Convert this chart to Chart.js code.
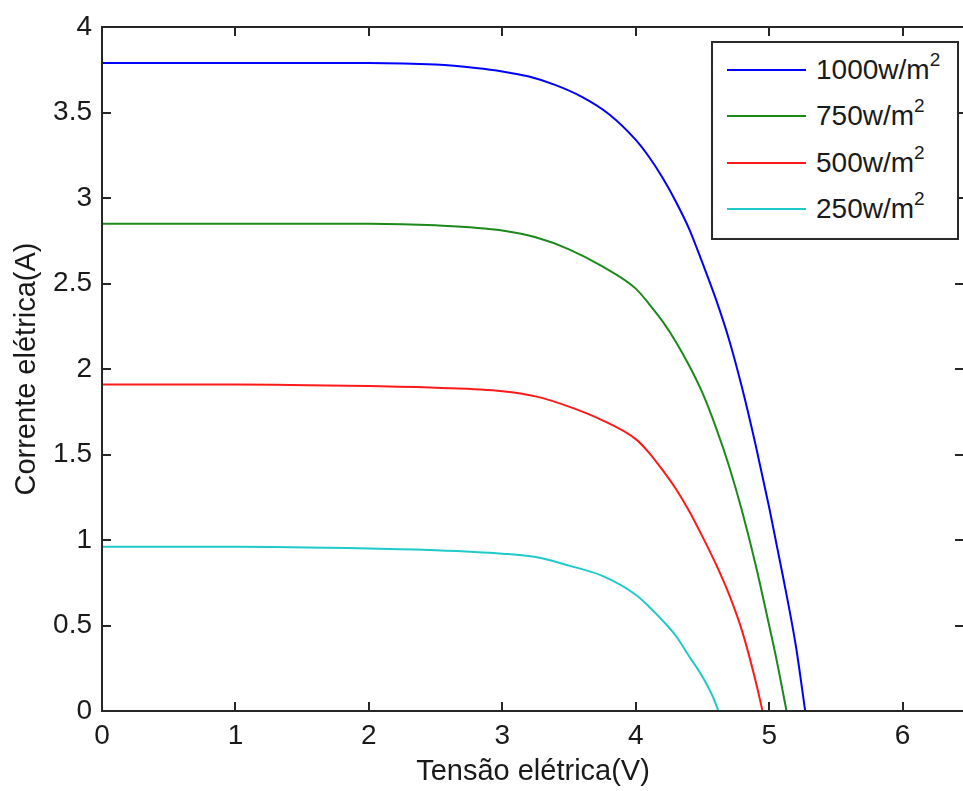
<!DOCTYPE html>
<html>
<head>
<meta charset="utf-8">
<script src="https://cdn.jsdelivr.net/npm/chart.js@4.4.1/dist/chart.umd.min.js"></script>
<style>
  html, body { margin: 0; padding: 0; background: #fff; overflow: hidden; }
  #wrap { position: relative; width: 963px; height: 791px; overflow: hidden; }
  #chart { position: absolute; left: 0; top: 0; }
  #legend {
    position: absolute; left: 711px; top: 41px; width: 244px; height: 195px;
    border: 2px solid #2a2a2a; background: #fff;
    font-family: 'Liberation Sans', Arial, sans-serif; font-size: 28px; color: #1a1a1a;
  }
  .row { position: absolute; left: 0; height: 40px; width: 100%; }
  .swatch { position: absolute; left: 14px; top: 19px; width: 79px; height: 2px; }
  .label { position: absolute; left: 103px; top: 5px; line-height: 30px; white-space: nowrap; }
  .label sup { font-size: 19px; position: relative; top: -3px; line-height: 0; }
</style>
</head>
<body>
<div id="wrap">
  <canvas id="chart" width="970" height="791"></canvas>
  <div id="legend"></div>
</div>
<script>
// irradiance levels (w/m2)
const irradiance = ['1000', '750', '500', '250'];
const colors = ['#0000ff', '#1b8a1b', '#ff1a1a', '#1fcaca'];

// voltage (V) and current (A)
const v1000 = [0, 1.0, 2.0, 2.5, 2.8, 3.0, 3.2, 3.4, 3.6, 3.8, 4.0, 4.1, 4.2, 4.3, 4.4, 4.5, 4.6, 4.7, 4.8, 4.9, 5.0, 5.1, 5.2, 5.27];
const i1000 = [3.79, 3.79, 3.79, 3.78, 3.76, 3.74, 3.71, 3.66, 3.59, 3.49, 3.34, 3.24, 3.12, 2.98, 2.82, 2.62, 2.41, 2.17, 1.88, 1.55, 1.19, 0.80, 0.38, 0];

const v750 = [0, 1.0, 2.0, 2.5, 3.0, 3.25, 3.5, 3.75, 4.0, 4.1, 4.2, 4.3, 4.4, 4.5, 4.6, 4.7, 4.8, 4.9, 5.0, 5.05, 5.13];
const i750 = [2.85, 2.85, 2.85, 2.84, 2.81, 2.77, 2.70, 2.60, 2.47, 2.38, 2.28, 2.16, 2.02, 1.86, 1.66, 1.43, 1.16, 0.85, 0.50, 0.32, 0];

const v500 = [0, 1.0, 2.0, 2.5, 3.0, 3.25, 3.5, 3.75, 4.0, 4.1, 4.2, 4.3, 4.4, 4.5, 4.6, 4.7, 4.8, 4.9, 4.95];
const i500 = [1.91, 1.91, 1.90, 1.89, 1.87, 1.84, 1.78, 1.70, 1.59, 1.51, 1.41, 1.30, 1.17, 1.02, 0.86, 0.68, 0.46, 0.17, 0];

const v250 = [0, 1.0, 2.0, 2.5, 3.0, 3.25, 3.5, 3.75, 4.0, 4.1, 4.2, 4.3, 4.4, 4.5, 4.58, 4.62];
const i250 = [0.96, 0.96, 0.95, 0.94, 0.92, 0.90, 0.85, 0.79, 0.68, 0.61, 0.53, 0.44, 0.32, 0.20, 0.08, 0];

const xTicks = [0, 1, 2, 3, 4, 5, 6];
const yTicks = [0, 0.5, 1, 1.5, 2, 2.5, 3, 3.5, 4];

const series = [[v1000, i1000], [v750, i750], [v500, i500], [v250, i250]];

Chart.defaults.font.family = "'Liberation Sans', Arial, sans-serif";
Chart.defaults.color = '#1a1a1a';

// matlab style box with inward ticks
const framePlugin = {
    id: 'frame',
    afterDatasetsDraw(chart) {
        const { ctx, chartArea: a, scales: { x, y } } = chart;
        ctx.save();
        ctx.strokeStyle = '#262626';
        ctx.lineWidth = 2;
        ctx.strokeRect(a.left, a.top, a.right - a.left, a.bottom - a.top);
        ctx.beginPath();
        x.ticks.forEach(t => {
            const px = Math.round(x.getPixelForValue(t.value));
            ctx.moveTo(px, a.bottom); ctx.lineTo(px, a.bottom - 9);
            ctx.moveTo(px, a.top); ctx.lineTo(px, a.top + 9);
        });
        y.ticks.forEach(t => {
            const py = Math.round(y.getPixelForValue(t.value));
            ctx.moveTo(a.left, py); ctx.lineTo(a.left + 9, py);
            ctx.moveTo(a.right, py); ctx.lineTo(a.right - 9, py);
        });
        ctx.stroke();
        ctx.restore();
    }
};

const chart = new Chart(document.getElementById('chart'), {
    type: 'scatter',
    data: {
        datasets: series.map((s, k) => ({
            label: irradiance[k] + 'w/m2',
            data: s[0].map((v, j) => ({ x: v, y: s[1][j] })),
            showLine: true,
            borderColor: colors[k],
            backgroundColor: colors[k],
            borderWidth: 2,
            pointRadius: 0,
            cubicInterpolationMode: 'monotone',
        })),
    },
    options: {
        responsive: false,
        animation: false,
        devicePixelRatio: 1,
        layout: { padding: { top: 27, right: 6, left: 0, bottom: 0 } },
        plugins: { legend: { display: false }, tooltip: { enabled: false } },
        scales: {
            x: {
                type: 'linear',
                min: 0,
                max: 6.46,
                afterBuildTicks: s => { s.ticks = xTicks.map(v => ({ value: v })); },
                afterFit: s => { s.height = 80; },
                grid: { display: false, drawTicks: false },
                border: { display: false },
                ticks: { padding: 8, font: { size: 28 }, maxRotation: 0, autoSkip: false, callback: v => String(v) },
                title: {
                    display: true,
                    text: 'Tensão elétrica(V)',
                    font: { size: 29 },
                    padding: { top: 0, bottom: 2 },
                },
            },
            y: {
                min: 0,
                max: 4,
                afterBuildTicks: s => { s.ticks = yTicks.map(v => ({ value: v })); },
                afterFit: s => { s.width = 102; },
                grid: { display: false, drawTicks: false },
                border: { display: false },
                ticks: { padding: 10, font: { size: 28 }, autoSkip: false, callback: v => String(v) },
                title: {
                    display: true,
                    text: 'Corrente elétrica(A)',
                    font: { size: 29 },
                    padding: { top: 10, bottom: 0 },
                },
            },
        },
    },
    plugins: [framePlugin],
});

// legend box with superscript
const legend = document.getElementById('legend');
const rowCenters = [27, 73, 120, 166];
chart.data.datasets.forEach((ds, k) => {
    const row = document.createElement('div');
    row.className = 'row';
    row.style.top = (rowCenters[k] - 20) + 'px';
    row.innerHTML = '<div class="swatch" style="background:' + ds.borderColor + '"></div>' +
        '<div class="label">' + irradiance[k] + 'w/m<sup>2</sup></div>';
    legend.appendChild(row);
});
</script>
</body>
</html>
